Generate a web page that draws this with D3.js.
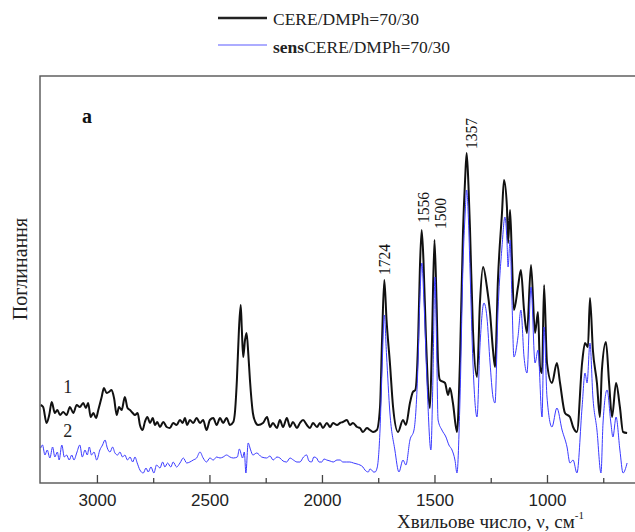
<!doctype html>
<html>
<head>
<meta charset="utf-8">
<style>
  body { margin: 0; background: #fff; }
  svg { display: block; }
  .serif { font-family: "Liberation Serif", "Times New Roman", serif; }
  .axis text { font-family: "Liberation Sans", Arial, sans-serif; font-size: 17px; fill: #222; }
  .axis line { stroke: #444; stroke-width: 1.3; }
</style>
</head>
<body>
<svg width="635" height="532"></svg>
<script src="https://d3js.org/d3.v7.min.js"></script>
<script>
// wavenumber (cm-1), absorbance (a.u.)
var spectrum1 = [
  [3250,78],[3239,76],[3224,60],[3212,68],[3201,81],[3187,70],[3176,73],[3164,68],[3150,71],[3135,68],
  [3120,76],[3105,70],[3090,78],[3076,76],[3061,80],[3049,75],[3039,80],[3028,66],[3016,70],[3004,65],
  [2994,73],[2979,86],[2969,95],[2957,90],[2947,91],[2935,93],[2924,85],[2912,68],[2902,76],[2890,73],
  [2876,86],[2864,75],[2853,73],[2841,70],[2831,68],[2819,70],[2809,58],[2797,53],[2787,61],[2776,66],
  [2764,60],[2752,65],[2742,58],[2732,61],[2720,56],[2705,61],[2690,56],[2676,55],[2661,60],[2646,58],
  [2631,63],[2619,60],[2609,65],[2599,58],[2587,63],[2572,60],[2557,65],[2542,60],[2528,63],[2513,53],
  [2498,63],[2483,65],[2468,58],[2453,65],[2439,60],[2424,65],[2409,58],[2394,61],[2387,70],[2378,103],
  [2369,153],[2361,178],[2356,153],[2350,126],[2342,143],[2335,150],[2327,128],[2320,103],[2307,70],[2296,61],
  [2284,58],[2262,60],[2244,66],[2231,56],[2218,60],[2200,55],[2187,63],[2173,56],[2156,65],[2142,56],
  [2129,61],[2111,55],[2098,60],[2084,63],[2067,58],[2053,55],[2040,60],[2022,56],[2009,60],[1996,55],
  [1978,60],[1964,56],[1951,60],[1933,58],[1920,60],[1907,61],[1889,63],[1876,58],[1862,60],[1844,56],
  [1831,55],[1818,51],[1800,55],[1787,53],[1773,51],[1756,53],[1742,76],[1733,143],[1723,203],[1713,163],
  [1698,120],[1684,76],[1662,51],[1640,63],[1627,58],[1609,80],[1596,91],[1585,93],[1573,140],[1565,213],
  [1557,253],[1549,223],[1538,146],[1520,75],[1511,143],[1500,243],[1491,183],[1484,120],[1476,103],[1453,100],
  [1440,88],[1431,95],[1418,80],[1400,51],[1387,120],[1373,253],[1364,303],[1357,330],[1349,298],[1342,253],
  [1329,153],[1311,106],[1298,180],[1284,216],[1267,196],[1253,170],[1240,133],[1231,116],[1218,203],[1200,270],
  [1191,303],[1178,276],[1173,240],[1164,273],[1156,226],[1147,173],[1129,196],[1116,213],[1102,173],[1089,150],
  [1071,218],[1053,150],[1040,171],[1031,116],[1022,110],[1013,198],[1000,120],[978,100],[956,120],[942,100],
  [920,70],[898,66],[884,56],[867,51],[844,120],[831,140],[818,136],[809,185],[796,133],[778,100],
  [765,66],[756,113],[738,141],[724,100],[711,66],[693,100],[676,76],[662,51],[644,50]
];

var spectrum2 = [
  [3250,35],[3242,38],[3231,28],[3221,33],[3209,25],[3197,36],[3187,26],[3176,31],[3168,23],[3156,38],
  [3145,26],[3135,28],[3123,23],[3112,28],[3102,23],[3090,30],[3076,38],[3065,26],[3053,33],[3043,28],
  [3034,36],[3024,28],[3013,31],[3001,23],[2987,33],[2975,38],[2964,43],[2954,35],[2942,31],[2930,36],
  [2920,30],[2908,28],[2898,31],[2886,26],[2876,28],[2864,23],[2853,26],[2841,21],[2831,26],[2821,20],
  [2809,13],[2794,10],[2782,15],[2772,11],[2760,16],[2747,10],[2735,18],[2720,15],[2708,21],[2698,16],
  [2686,20],[2672,16],[2661,21],[2646,16],[2631,20],[2616,25],[2601,20],[2587,21],[2572,23],[2557,25],
  [2542,31],[2528,25],[2513,21],[2498,25],[2483,23],[2468,26],[2453,25],[2439,26],[2424,28],[2409,26],
  [2394,25],[2376,26],[2367,34],[2353,25],[2345,31],[2338,10],[2328,40],[2317,33],[2307,28],[2290,30],
  [2268,26],[2246,25],[2231,27],[2217,23],[2200,26],[2187,25],[2173,22],[2157,21],[2142,25],[2127,23],
  [2111,21],[2098,21],[2082,26],[2068,28],[2058,22],[2046,21],[2036,26],[2024,25],[2013,21],[2001,21],
  [1991,24],[1979,23],[1964,22],[1950,21],[1933,23],[1920,23],[1907,21],[1890,21],[1876,21],[1860,20],
  [1844,19],[1831,18],[1818,16],[1809,13],[1794,11],[1787,14],[1779,13],[1771,11],[1764,11],[1754,16],
  [1742,53],[1733,113],[1723,168],[1713,128],[1698,70],[1676,33],[1658,11],[1640,23],[1627,18],[1609,43],
  [1591,53],[1573,120],[1565,183],[1556,220],[1547,183],[1533,100],[1516,33],[1507,103],[1498,206],[1491,143],
  [1484,63],[1467,53],[1449,46],[1436,38],[1422,33],[1409,23],[1400,10],[1387,80],[1373,220],[1364,268],
  [1357,293],[1349,263],[1342,213],[1329,120],[1311,66],[1298,136],[1280,180],[1267,166],[1253,120],[1240,86],
  [1231,80],[1218,170],[1200,236],[1187,266],[1178,243],[1173,216],[1164,243],[1156,186],[1147,126],[1129,146],
  [1116,173],[1102,126],[1089,110],[1071,196],[1053,120],[1040,133],[1022,66],[1013,156],[1000,86],[978,56],
  [956,75],[933,53],[911,36],[898,20],[884,23],[867,10],[844,76],[831,110],[822,100],[809,140],
  [796,86],[778,53],[760,10],[751,60],[733,93],[716,60],[707,46],[693,66],[676,33],[662,10],[644,20]
];

var majorTicks = [3000, 2500, 2000, 1500, 1000];
var minorTicks = [2750, 2250, 1750, 1250, 750];
var peakNames = ["1724", "1556", "1500", "1357"];
var peakWn = [1724, 1556, 1500, 1357];
var legendNames = ["CERE/DMPh=70/30", "CERE/DMPh=70/30"];

var svg = d3.select("svg");
var plotLeft = 40, plotTop = 76, plotBottom = 483, plotRight = 637;

var x = d3.scaleLinear().domain([3253, 600]).range([plotLeft, plotRight]);
var y = d3.scaleLinear().domain([0, 407]).range([plotBottom, plotTop]);

svg.append("clipPath").attr("id", "clip")
  .append("rect").attr("x", plotLeft).attr("y", plotTop)
  .attr("width", plotRight - plotLeft).attr("height", plotBottom - plotTop);

var line = d3.line()
  .curve(d3.curveMonotoneX)
  .x(function(d) { return x(d[0]); })
  .y(function(d) { return y(d[1]); });

var plot = svg.append("g").attr("clip-path", "url(#clip)");

plot.append("path")
  .datum(spectrum1)
  .attr("fill", "none")
  .attr("stroke", "#111")
  .attr("stroke-width", 2)
  .attr("stroke-linejoin", "round")
  .attr("d", line);

plot.append("path")
  .datum(spectrum2)
  .attr("fill", "none")
  .attr("stroke", "#3a3aff")
  .attr("stroke-width", 1)
  .attr("stroke-linejoin", "round")
  .attr("d", line);

// frame
svg.append("rect")
  .attr("x", plotLeft).attr("y", plotTop)
  .attr("width", plotRight - plotLeft + 5).attr("height", plotBottom - plotTop)
  .attr("fill", "none")
  .attr("stroke", "#555")
  .attr("stroke-width", 1.4);

// axes, ticks pointing inward
svg.append("g")
  .attr("class", "axis")
  .attr("transform", "translate(0," + plotBottom + ")")
  .call(d3.axisBottom(x).tickValues(majorTicks).tickSizeInner(-8).tickSizeOuter(0).tickPadding(11).tickFormat(d3.format("d")))
  .select(".domain").remove();

svg.append("g")
  .attr("class", "axis")
  .attr("transform", "translate(0," + plotBottom + ")")
  .call(d3.axisBottom(x).tickValues(minorTicks).tickSizeInner(-5).tickSizeOuter(0).tickFormat(""))
  .select(".domain").remove();

// axis titles
var xt = svg.append("text")
  .attr("class", "serif")
  .attr("x", 397).attr("y", 528)
  .style("font-size", "19px")
  .attr("fill", "#222");
xt.append("tspan").text("Хвильове число, ν, см");
xt.append("tspan").attr("dy", -9).style("font-size", "11px").text("-1");

svg.append("text")
  .attr("class", "serif")
  .attr("transform", "translate(27,269) rotate(-90)")
  .attr("text-anchor", "middle")
  .style("font-size", "20px")
  .attr("fill", "#222")
  .text("Поглинання");

svg.append("text")
  .attr("class", "serif")
  .attr("x", 82).attr("y", 123)
  .style("font-size", "20px")
  .style("font-weight", "bold")
  .attr("fill", "#111")
  .text("a");

// curve numbers
svg.append("text")
  .attr("class", "serif")
  .attr("x", x(3130)).attr("y", y(90))
  .attr("text-anchor", "middle")
  .style("font-size", "18px")
  .attr("fill", "#222")
  .text("1");
svg.append("text")
  .attr("class", "serif")
  .attr("x", x(3130)).attr("y", y(46))
  .attr("text-anchor", "middle")
  .style("font-size", "18px")
  .attr("fill", "#222")
  .text("2");

// peak labels
var peakTop = function(wn) {
  return d3.max(spectrum1.filter(function(d) { return Math.abs(d[0] - wn) < 4; }), function(d) { return d[1]; });
};
var peakDx = [6, 7, 12, 10];
var peakGap = [5, 7, 11, 4];
peakNames.forEach(function(name, i) {
  var px = x(peakWn[i]) + peakDx[i];
  var py = y(peakTop(peakWn[i])) - peakGap[i];
  svg.append("text")
    .attr("class", "serif")
    .attr("transform", "translate(" + px + "," + py + ") rotate(-90)")
    .attr("text-anchor", "start")
    .attr("textLength", 31)
    .attr("lengthAdjust", "spacingAndGlyphs")
    .style("font-size", "17px")
    .attr("fill", "#111")
    .text(name);
});

// legend
svg.append("line")
  .attr("x1", 218).attr("x2", 267).attr("y1", 18).attr("y2", 18)
  .attr("stroke", "#222").attr("stroke-width", 2.5);
svg.append("text")
  .attr("class", "serif")
  .attr("x", 273).attr("y", 25)
  .style("font-size", "17.5px")
  .attr("fill", "#222")
  .text(legendNames[0]);

svg.append("line")
  .attr("x1", 218).attr("x2", 267).attr("y1", 45).attr("y2", 45)
  .attr("stroke", "#5a5aff").attr("stroke-width", 1.2);
var lt = svg.append("text")
  .attr("class", "serif")
  .attr("x", 273).attr("y", 53)
  .style("font-size", "17.5px")
  .attr("fill", "#222");
lt.append("tspan").style("font-weight", "bold").text("sens");
lt.append("tspan").text(legendNames[1]);
</script>
</body>
</html>
